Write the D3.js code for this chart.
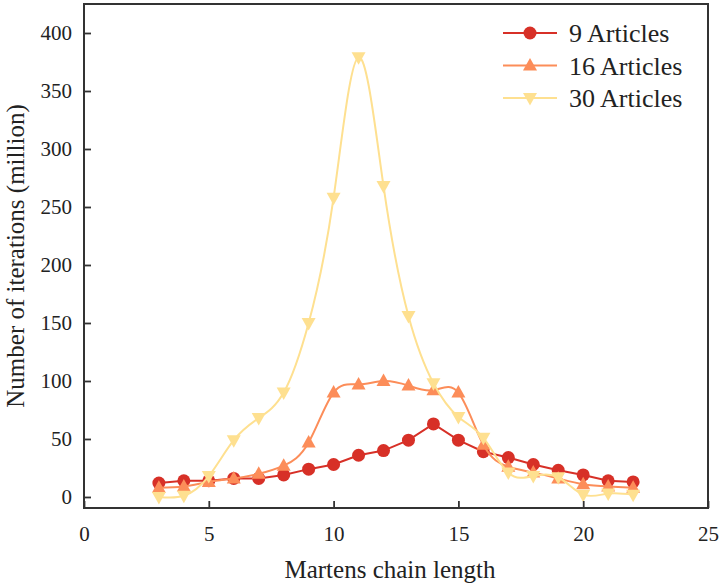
<html>
<head>
<style>
body { margin: 0; background: #fff; }
</style>
</head>
<body>
<div id="vis"></div>
<script src="https://cdn.jsdelivr.net/npm/d3@7"></script>
<script>
// chain lengths
var chainLength = [3, 4, 5, 6, 7, 8, 9, 10, 11, 12, 13, 14, 15, 16, 17, 18, 19, 20, 21, 22];

// iterations in millions
var articles9  = [12, 14, 14, 16, 16, 19, 24, 28, 36, 40, 49, 63, 49, 39, 34, 28, 23, 19, 14, 13];
var articles16 = [8, 9, 13, 16, 20, 27, 47, 90, 97, 100, 96, 92, 90, 45, 26, 21, 16, 11, 9, 8];
var articles30 = [0, 1, 18, 49, 68, 90, 150, 258, 379, 268, 156, 98, 69, 51, 21, 18, 17, 2, 3, 2];

var seriesNames = ["9 Articles", "16 Articles", "30 Articles"];
var xTicks = [0, 5, 10, 15, 20, 25];
var yTicks = [0, 50, 100, 150, 200, 250, 300, 350, 400];

var serifFont = "'Liberation Serif', serif";

var margin = {top: 4, right: 12, bottom: 75, left: 84},
    width = 720 - margin.left - margin.right,
    height = 583 - margin.top - margin.bottom;

var x = d3.scaleLinear().domain([0, 25]).range([0, width]);
var y = d3.scaleLinear().domain([-9.5, 425]).range([height, 0]);

var svg = d3.select("#vis").append("svg")
    .attr("width", 720)
    .attr("height", 583)
  .append("g")
    .attr("transform", "translate(" + margin.left + "," + margin.top + ")");

var series = [
  {name: seriesNames[0], values: articles9,  color: "#d73027", symbol: "circle", curve: d3.curveLinear},
  {name: seriesNames[1], values: articles16, color: "#fc8d59", symbol: "up",     curve: d3.curveNatural},
  {name: seriesNames[2], values: articles30, color: "#fee090", symbol: "down",   curve: d3.curveNatural}
];

var triUp = "M0,-7.5L7,5L-7,5Z";
var triDown = "M0,7.5L7,-5L-7,-5Z";

function drawMarker(g, s) {
  if (s.symbol === "circle") {
    g.append("circle").attr("r", 6.5).attr("fill", s.color);
  } else {
    g.append("path").attr("d", s.symbol === "up" ? triUp : triDown).attr("fill", s.color);
  }
}

series.forEach(function(s) {
  var pts = chainLength.map(function(c, i) { return [c, s.values[i]]; });
  var line = d3.line()
      .curve(s.curve)
      .x(function(d) { return x(d[0]); })
      .y(function(d) { return y(d[1]); });

  svg.append("path")
      .datum(pts)
      .attr("fill", "none")
      .attr("stroke", s.color)
      .attr("stroke-width", 2)
      .attr("d", line);

  pts.forEach(function(d) {
    var g = svg.append("g").attr("transform", "translate(" + x(d[0]) + "," + y(d[1]) + ")");
    drawMarker(g, s);
  });
});

// axes, ticks pointing inward
var xAxis = svg.append("g")
    .attr("transform", "translate(0," + height + ")")
    .call(d3.axisBottom(x).tickValues(xTicks).tickSizeInner(-7).tickSizeOuter(0).tickPadding(18));
var yAxis = svg.append("g")
    .call(d3.axisLeft(y).tickValues(yTicks).tickSizeInner(-7).tickSizeOuter(0).tickPadding(12));

[xAxis, yAxis].forEach(function(a) {
  a.select(".domain").remove();
  a.selectAll(".tick line").attr("stroke", "#333").attr("stroke-width", 1.8);
  a.selectAll(".tick text")
      .style("font-family", serifFont)
      .style("font-size", "21px")
      .style("fill", "#222");
});

// frame
svg.append("rect")
    .attr("width", width)
    .attr("height", height)
    .attr("fill", "none")
    .attr("stroke", "#333")
    .attr("stroke-width", 2);

// axis titles
svg.append("text")
    .style("font-family", serifFont)
    .style("font-size", "25px")
    .style("fill", "#222")
    .attr("x", width / 2 - 6)
    .attr("y", height + 70)
    .attr("text-anchor", "middle")
    .text("Martens chain length");

svg.append("text")
    .style("font-family", serifFont)
    .style("font-size", "25px")
    .style("fill", "#222")
    .attr("transform", "translate(" + (-60) + "," + (height / 2) + ") rotate(-90)")
    .attr("text-anchor", "middle")
    .text("Number of iterations (million)");

// legend
var legend = svg.append("g").attr("transform", "translate(" + (width - 205) + ",29)");
series.forEach(function(s, i) {
  var g = legend.append("g").attr("transform", "translate(0," + (i * 32.5) + ")");
  g.append("line").attr("x1", 0).attr("x2", 54).attr("stroke", s.color).attr("stroke-width", 2);
  drawMarker(g.append("g").attr("transform", "translate(27,0)"), s);
  g.append("text")
      .style("font-family", serifFont)
      .style("font-size", "26px")
      .style("fill", "#222")
      .attr("x", 66)
      .attr("y", 9)
      .text(s.name);
});
</script>
</body>
</html>
